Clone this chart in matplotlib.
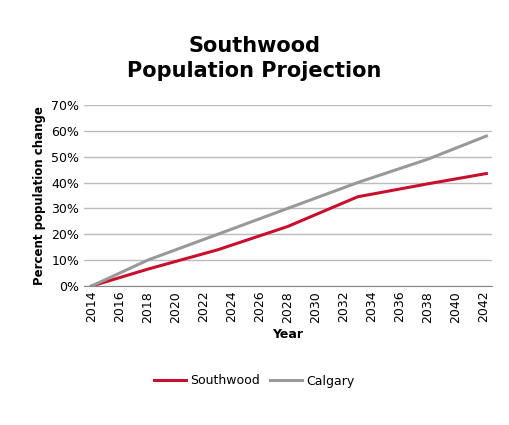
import matplotlib.pyplot as plt
from matplotlib.ticker import PercentFormatter

years = [2014, 2018, 2023, 2028, 2033, 2038, 2042.2]
southwood = [0, 6.5, 14, 23, 34.5, 39.5, 43.5]
calgary = [0, 10, 20, 30, 40, 49, 58]
tick_years = list(range(2014, 2043, 2))


def main():
    fig = plt.figure(figsize=(5.09, 4.25), dpi=100)
    ax = fig.add_axes([84 / 509, 1 - 286 / 425, 408 / 509, 181 / 425])
    ax.plot(years, southwood, color="#c8102e", lw=2.2, label="Southwood")
    ax.plot(years, calgary, color="#999999", lw=2.2, label="Calgary")
    ax.set_xlim(2013.45, 2042.6)
    ax.set_ylim(0, 70)
    ax.set_yticks(range(0, 71, 10))
    ax.yaxis.set_major_formatter(PercentFormatter(decimals=0))
    ax.set_xticks(tick_years)
    ax.tick_params(axis="x", rotation=90, length=0, labelsize=9)
    ax.tick_params(axis="y", length=0, labelsize=9)
    ax.grid(axis="y", color="#bbbbbb", lw=1)
    ax.set_axisbelow(True)
    for s in ["top", "right", "left"]:
        ax.spines[s].set_visible(False)
    ax.spines["bottom"].set_color("#888888")
    ax.set_xlabel("Year", fontweight="bold", fontsize=9)
    ax.set_ylabel("Percent population change", fontweight="bold", fontsize=8.5)
    fig.suptitle("Southwood\nPopulation Projection", fontweight="bold",
                 fontsize=15, y=0.915, linespacing=1.3)
    fig.legend(loc="center", bbox_to_anchor=(0.5, 1 - 381 / 425), ncol=2,
               frameon=False, fontsize=9, handlelength=2.5, columnspacing=0.8,
               handletextpad=0.4)
    fig.savefig("out.png")


if __name__ == "__main__":
    main()
